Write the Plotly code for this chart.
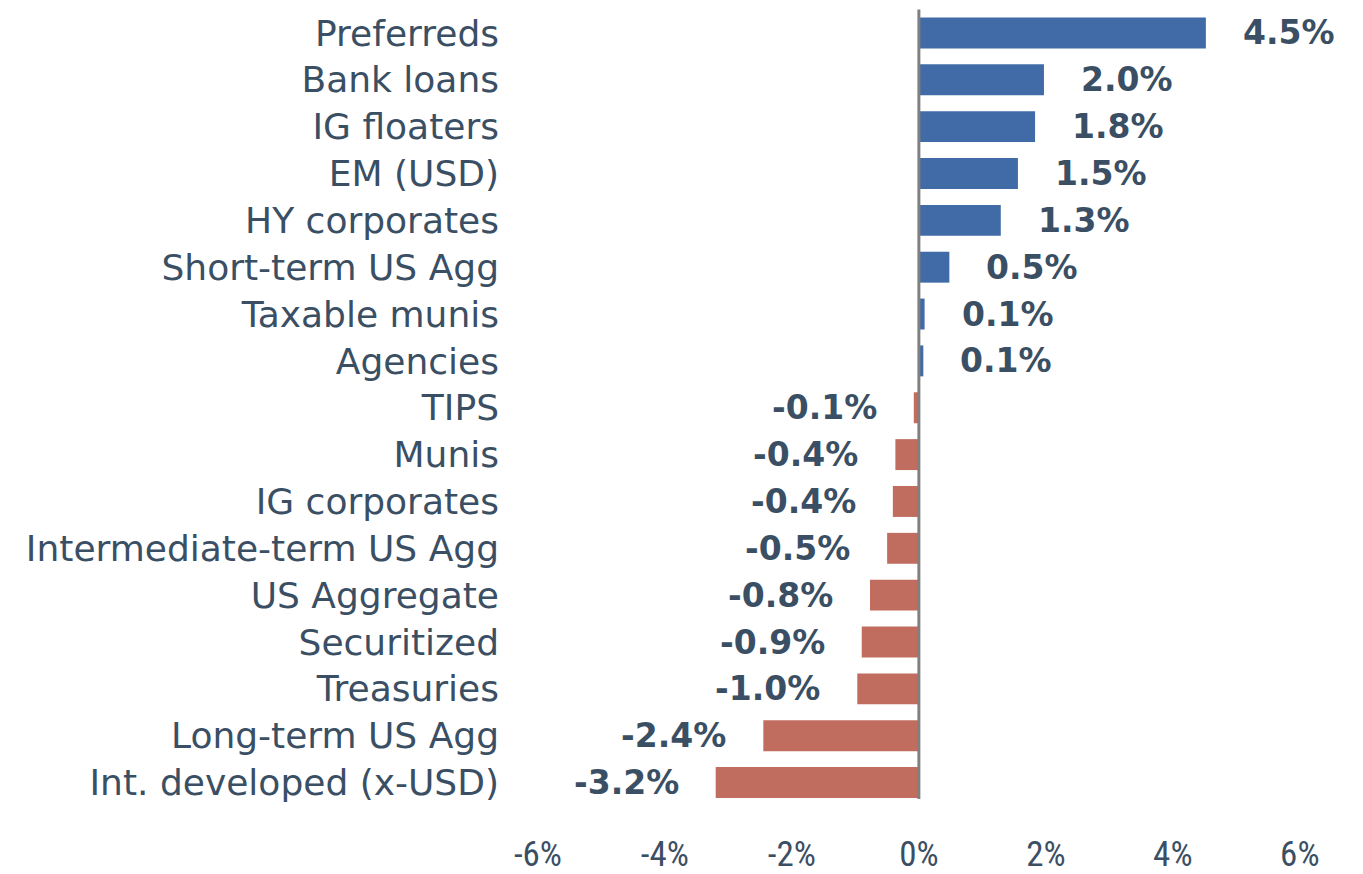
import plotly.graph_objects as go

categories = ["Preferreds", "Bank loans", "IG floaters", "EM (USD)", "HY corporates",
              "Short-term US Agg", "Taxable munis", "Agencies", "TIPS", "Munis",
              "IG corporates", "Intermediate-term US Agg", "US Aggregate", "Securitized",
              "Treasuries", "Long-term US Agg", "Int. developed (x-USD)"]
values = [4.5, 2.0, 1.8, 1.5, 1.3, 0.5, 0.1, 0.1, -0.1, -0.4, -0.4, -0.5, -0.8, -0.9, -1.0, -2.4, -3.2]
# bar lengths as drawn (rounded labels above)
bar_values = [4.52, 1.97, 1.83, 1.56, 1.29, 0.48, 0.09, 0.07, -0.08, -0.37, -0.41, -0.5, -0.77, -0.9, -0.97, -2.45, -3.2]
tick_vals = [-6, -4, -2, 0, 2, 4, 6]
tick_text = ["-6%", "-4%", "-2%", "0%", "2%", "4%", "6%"]

BLUE = "#416ba7"
RED = "#c06c5e"
TEXT = "#3b4f64"

colors = [BLUE if v > 0 else RED for v in values]

fig = go.Figure()
fig.add_trace(go.Bar(
    x=bar_values, y=categories, orientation="h",
    marker=dict(color=colors, line=dict(width=0)),
    width=0.66, hoverinfo="skip",
))

for cat, v, bv in zip(categories, values, bar_values):
    fig.add_annotation(
        x=bv, y=cat, text=f"<b>{v:.1f}%</b>", showarrow=False,
        xanchor="left" if v > 0 else "right",
        xshift=35 if v > 0 else -35,
        font=dict(family="DejaVu Sans", size=33, color=TEXT),
    )

fig.add_shape(type="line", x0=0, x1=0, y0=-0.5, y1=16.35, xref="x", yref="y",
              line=dict(color="#808080", width=3))

# page body has an 8px default margin, so the figure is sized to fit the window
fig.update_layout(
    width=1355, height=866,
    margin=dict(l=502, r=20, t=0, b=68),
    paper_bgcolor="white", plot_bgcolor="white",
    showlegend=False,
    xaxis=dict(range=[-6.44, 6.68], tickvals=tick_vals, ticktext=tick_text,
               showgrid=False, zeroline=False, showline=False, ticks="",
               tickfont=dict(family="Liberation Sans Narrow, Roboto Condensed, Arial Narrow", size=35, color=TEXT),
               ticklabelstandoff=24, automargin=False),
    yaxis=dict(autorange="reversed", showgrid=False, zeroline=False, showline=False, ticks="",
               tickfont=dict(family="DejaVu Sans", size=36, color=TEXT),
               ticklabelstandoff=10, automargin=False),
)

fig.write_html("out.html")
